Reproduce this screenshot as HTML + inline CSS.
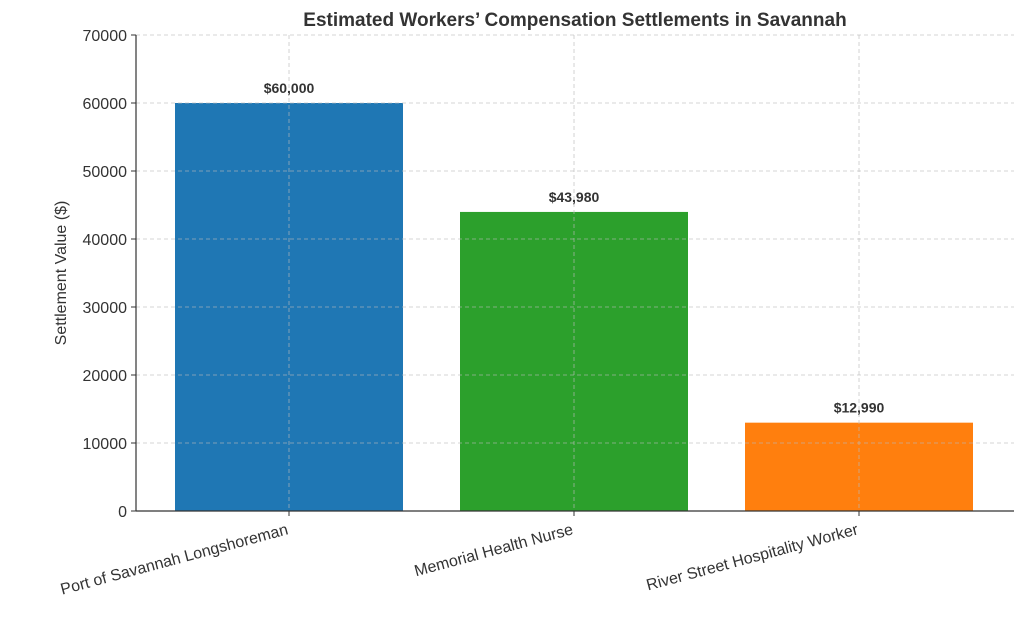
<!DOCTYPE html>
<html><head><meta charset="utf-8"><style>
body{margin:0;background:#fff;}
svg{display:block;font-family:"Liberation Sans","DejaVu Sans",sans-serif;}
</style></head><body>
<svg id="chart" width="1024" height="617" viewBox="0 0 1024 617">
<text x="575" y="26" text-anchor="middle" font-size="19" font-weight="bold" fill="#333">Estimated Workers’ Compensation Settlements in Savannah</text>
<text transform="translate(66,273) rotate(-90)" text-anchor="middle" font-size="16" fill="#333">Settlement Value ($)</text>
<g id="bars"></g><g id="grid"></g><g id="ticks"></g><g id="vals"></g>
<line x1="136" y1="35" x2="136" y2="511" stroke="#333" stroke-width="1.2"/>
<line x1="136" y1="511" x2="1014" y2="511" stroke="#333" stroke-width="1.2"/>
</svg>
<script>
const categories=["Port of Savannah Longshoreman","Memorial Health Nurse","River Street Hospitality Worker"];
const values=[60000,43980,12990];
const valueLabels=["$60,000","$43,980","$12,990"];
const colors=["#1f77b4","#2ca02c","#ff7f0e"];
const yTicks=[0,10000,20000,30000,40000,50000,60000,70000];
const NS="http://www.w3.org/2000/svg";
const y=v=>511-v*(476/70000);
const x=i=>289+i*285;
const bw=228;
function mk(tag,attrs,parent,text){const e=document.createElementNS(NS,tag);for(const k in attrs)e.setAttribute(k,attrs[k]);if(text!==undefined)e.textContent=text;document.getElementById(parent).appendChild(e);return e;}
categories.forEach((c,i)=>{
 const r=mk('rect',{x:x(i)-bw/2,y:y(values[i]),width:bw,height:511-y(values[i]),fill:colors[i]},'bars');
 
 
 const t=mk('text',{x:x(i),y:y(values[i])-10,'text-anchor':'middle','font-size':'14','font-weight':'bold',fill:'#333'},'vals',valueLabels[i]);
 
 
 const g=mk('line',{x1:x(i),x2:x(i),y1:35,y2:511,stroke:'#bbb','stroke-dasharray':'4,3','stroke-width':'0.8',opacity:'0.8'},'grid');
 
 
 mk('line',{x1:x(i),x2:x(i),y1:511,y2:516,stroke:'#333'},'ticks');
 const l=mk('text',{transform:`translate(${x(i)},534) rotate(-15)`,'text-anchor':'end','font-size':'16',fill:'#333'},'ticks',c);
 
 
});
yTicks.forEach(v=>{
 const g=mk('line',{x1:136,x2:1014,y1:y(v),y2:y(v),stroke:'#bbb','stroke-dasharray':'4,3','stroke-width':'0.8',opacity:'0.8'},'grid');
 
 
 mk('line',{x1:131,x2:136,y1:y(v),y2:y(v),stroke:'#333'},'ticks');
 const t=mk('text',{x:127,y:y(v)+6,'text-anchor':'end','font-size':'16',fill:'#333'},'ticks',String(v));
 
 
});
</script>
</body></html>
